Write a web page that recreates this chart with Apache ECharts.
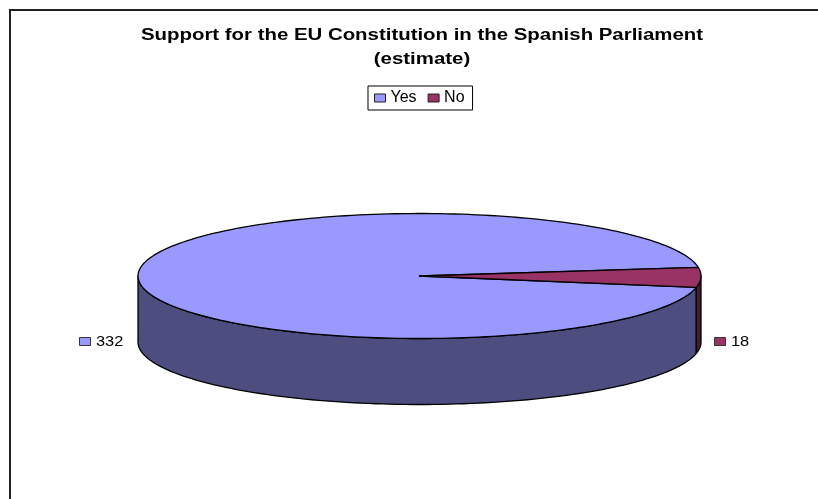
<!DOCTYPE html>
<html>
<head>
<meta charset="utf-8">
<style>html,body{margin:0;padding:0;background:#fff}#chart{width:818px;height:499px}</style>
<script src="https://cdn.jsdelivr.net/npm/echarts@6/dist/echarts.min.js"></script>
</head>
<body>
<div id="chart"></div>
<script>
// Seats expected to back the constitution, by vote
const categories = ['Yes', 'No'];
const seats = [332, 18];
const topColors = ['#9999FF', '#993366'];
const wallColors = ['#4D4D80', '#4D1A33'];
const titleLines = ['Support for the EU Constitution in the Spanish Parliament', '(estimate)'];

// Tilted disc geometry
const CX = 419.5, CY = 276, RX = 281.5, RY = 62.5, DEPTH = 66;
// Parametric angle at which the "No" wedge ends on the rim, degrees
const NO_END = -10.5;
// Horizontal stretch applied to the value tags
const WIDE = 1.17;

const total = seats.reduce((a, b) => a + b, 0);
const rad = d => d * Math.PI / 180;
const rim = (deg, dy) => [CX + RX * Math.cos(rad(deg)), CY - RY * Math.sin(rad(deg)) + (dy || 0)];

// Sample an arc of the rim between two angles
function arc(from, to, dy) {
  const pts = [];
  const n = Math.max(2, Math.ceil(Math.abs(to - from) / 1.5));
  for (let i = 0; i <= n; i++) pts.push(rim(from + (to - from) * i / n, dy));
  return pts;
}

// Wedge spans, running clockwise from the end of the "No" wedge
const spans = [
  { from: NO_END, to: NO_END - seats[0] / total * 360 },
  { from: NO_END + seats[1] / total * 360, to: NO_END }
];
// Part of each wedge's rim that faces the viewer
const walls = [[NO_END, -180], [0, NO_END]];

const outline = { stroke: '#000', lineWidth: 1.3, lineJoin: 'round' };

function wedge(i) {
  return function () {
    const [wFrom, wTo] = walls[i];
    const s = spans[i];
    return { type: 'group', children: [
      { type: 'polygon',
        shape: { points: arc(wFrom, wTo, 0).concat(arc(wTo, wFrom, DEPTH)) },
        style: { fill: wallColors[i], ...outline } },
      { type: 'polygon',
        shape: { points: [[CX, CY]].concat(arc(s.from, s.to, 0)) },
        style: { fill: topColors[i], ...outline } }
    ] };
  };
}

const tagX = [79, 714];
function valueTag(i) {
  return function () {
    const x = tagX[i], y = 342;
    return { type: 'group', children: [
      { type: 'rect', shape: { x: x + 0.5, y: y - 4.5, width: 11, height: 8 },
        style: { fill: topColors[i], stroke: '#333', lineWidth: 1 } },
      { type: 'text', x: x + 17, y: y + 0.5, scaleX: WIDE,
        style: { text: String(seats[i]), fill: '#000', font: '14px "Liberation Sans"', textVerticalAlign: 'middle' } }
    ] };
  };
}

const chart = echarts.init(document.getElementById('chart'), null, { renderer: 'canvas' });
chart.setOption({
  animation: false,
  backgroundColor: '#fff',
  legend: {
    data: categories,
    left: 368, top: 86,
    orient: 'horizontal',
    icon: 'rect', itemWidth: 11, itemHeight: 8, itemGap: 11,
    padding: [4, 8, 4, 6],
    backgroundColor: '#fff', borderColor: '#000', borderWidth: 1, borderRadius: 0,
    textStyle: { fontFamily: 'Liberation Sans', fontSize: 16, color: '#000', padding: [1, 0, 0, 0] },
    itemStyle: { borderColor: '#222', borderWidth: 1 }
  },
  graphic: [
    // Chart frame, open on its right and bottom sides
    { type: 'polyline', silent: true, shape: { points: [[10, 499], [10, 10], [818, 10]] },
      style: { stroke: '#222', lineWidth: 2, fill: null } },
    { type: 'text', silent: true, x: 422, y: 36, scaleX: 1.275,
      style: { text: titleLines[0], fill: '#000', font: 'bold 16px "Liberation Sans"', textAlign: 'center', textVerticalAlign: 'middle' } },
    { type: 'text', silent: true, x: 422, y: 60, scaleX: 1.275,
      style: { text: titleLines[1], fill: '#000', font: 'bold 16px "Liberation Sans"', textAlign: 'center', textVerticalAlign: 'middle' } }
  ],
  series: categories.map((name, i) => ({
    name,
    type: 'custom',
    coordinateSystem: 'none',
    renderItem: wedge(i),
    itemStyle: { color: topColors[i] },
    data: [seats[i]],
    z: 2
  })).concat(categories.map((name, i) => ({
    name: name + ' seats',
    type: 'custom',
    coordinateSystem: 'none',
    silent: true,
    renderItem: valueTag(i),
    data: [seats[i]],
    z: 3
  })))
});
</script>
</body>
</html>
